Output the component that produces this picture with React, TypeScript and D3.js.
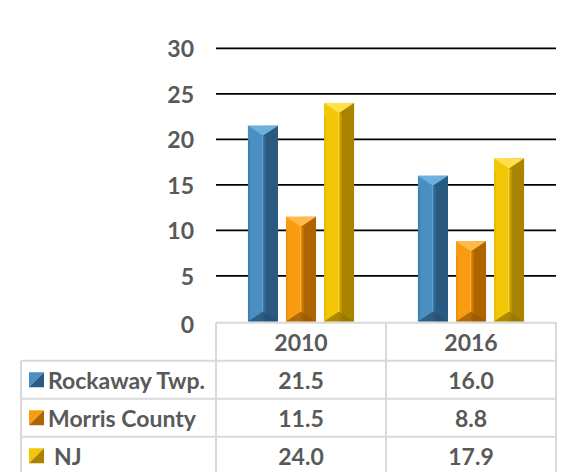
import * as d3 from 'd3'

const W = 564, H = 472

const YEARS = ['2010', '2016']
const SERIES_NAMES = ['Rockaway Twp.', 'Morris County', 'NJ']
const ROCKAWAY = [21.5, 16.0]
const MORRIS = [11.5, 8.8]
const NJ = [24.0, 17.9]
const Y_TICKS = [0, 5, 10, 15, 20, 25, 30]

const VALUES = [ROCKAWAY, MORRIS, NJ]

// face colours per series: light (left), mid, dark (right), top facet
const PALETTE = [
  { light: '#4a8ec2', mid: '#3979ab', dark: '#2b5a80', top: '#6cb0e0', bottom: '#284f70' },
  { light: '#fa9c12', mid: '#ec8a00', dark: '#ad6500', top: '#ffba4c', bottom: '#9a5a00' },
  { light: '#f4c608', mid: '#e4b500', dark: '#aa8400', top: '#ffdf4a', bottom: '#957400' },
]

const FONT = 'Lato, "Open Sans", sans-serif'
const TXT = '#595959'
const GRID_LINE = '#d9d9d9'
const FS = 23

const PLOT = { left: 216, right: 556, top: 48.3, bottom: 321.5 }
const TABLE = { left: 21, top: 322.7, row: 38 }

function Bar({ x, y, w, h, si }: { x: number, y: number, w: number, h: number, si: number }) {
  const c = PALETTE[si]
  const d = Math.min(10, h / 2)
  const xc = x + w / 2
  const yb = y + h
  return (
    <g>
      <rect x={x} y={y} width={w} height={h} fill={`url(#grad${si})`} />
      {/* top chevron */}
      <polygon points={`${x + w},${y} ${xc},${y + d} ${x + w},${y + d + 4}`} fill={c.dark} />
      <polygon points={`${x},${y} ${xc},${y + d} ${x},${y + d + 4}`} fill={c.light} />
      <polygon points={`${x},${y} ${x + w},${y} ${xc},${y + d}`} fill={c.top} />
      {/* bottom chevron */}
      <polygon points={`${x},${yb} ${x + w},${yb} ${xc},${yb - d}`} fill={c.bottom} opacity={0.75} />
      <line x1={xc - 0.5} y1={y + d} x2={xc - 0.5} y2={yb - d} stroke={c.top} strokeWidth={1.2} opacity={0.7} />
    </g>
  )
}

export default function App() {
  const y = d3.scaleLinear().domain([0, 30]).range([PLOT.bottom, PLOT.top])
  const x0 = d3.scaleBand<string>().domain(YEARS).range([PLOT.left, PLOT.right])
  const x1 = d3.scaleBand<number>().domain([0, 1, 2]).range([0, x0.bandwidth()])
    .paddingInner(0.21).paddingOuter(0.84)

  const rowY = (i: number) => TABLE.top + TABLE.row * (i + 1)
  const rowMid = (i: number) => TABLE.top + TABLE.row * (i + 0.5)

  return (
    <div style={{ position: 'absolute', left: 0, top: 0 }}>
      <svg width={W} height={H} viewBox={`0 0 ${W} ${H}`} style={{ display: 'block', background: '#fff' }}>
        <defs>
          {PALETTE.map((c, i) => (
            <linearGradient key={i} id={`grad${i}`} x1="0" x2="1" y1="0" y2="0">
              <stop offset="0" stopColor={c.mid} />
              <stop offset="0.1" stopColor={c.light} />
              <stop offset="0.45" stopColor={c.light} />
              <stop offset="0.5" stopColor={c.mid} />
              <stop offset="0.62" stopColor={c.dark} />
              <stop offset="1" stopColor={c.dark} />
            </linearGradient>
          ))}
        </defs>

        {/* gridlines */}
        {Y_TICKS.filter(t => t > 0).map(t => (
          <line key={t} x1={PLOT.left} x2={PLOT.right} y1={y(t)} y2={y(t)} stroke="#000" strokeWidth={1.8} />
        ))}

        {/* y labels */}
        {Y_TICKS.map(t => (
          <text key={t} x={194} y={y(t) + (t === 0 ? 2 : 0)} textAnchor="end" dominantBaseline="central"
            fontFamily={FONT} fontWeight={700} fontSize={FS} fill={TXT}>{t}</text>
        ))}

        {/* bars */}
        {YEARS.map((yr, ci) => (
          <g key={yr} transform={`translate(${x0(yr)},0)`}>
            {VALUES.map((vals, si) => (
              <Bar key={si} si={si} x={x1(si)!} y={y(vals[ci])} w={x1.bandwidth()} h={y(0) - y(vals[ci])} />
            ))}
          </g>
        ))}

        {/* data table */}
        <g stroke={GRID_LINE} strokeWidth={2} fill="none">
          <line x1={PLOT.left} x2={PLOT.right} y1={TABLE.top} y2={TABLE.top} />
          {[0, 1, 2].map(i => (
            <line key={i} x1={TABLE.left} x2={PLOT.right} y1={rowY(i)} y2={rowY(i)} />
          ))}
          <line x1={TABLE.left} x2={TABLE.left} y1={rowY(0)} y2={H} />
          {[PLOT.left, x0('2016')!, PLOT.right].map((xx, i) => (
            <line key={i} x1={xx} x2={xx} y1={TABLE.top} y2={H} />
          ))}
        </g>

        {YEARS.map(yr => (
          <text key={yr} x={x0(yr)! + x0.bandwidth() / 2} y={rowMid(0)} textAnchor="middle" dominantBaseline="central"
            fontFamily={FONT} fontWeight={700} fontSize={FS} fill={TXT}>{yr}</text>
        ))}

        {SERIES_NAMES.map((name, si) => {
          const cy = rowMid(si + 1)
          const c = PALETTE[si]
          const kx = 29, ks = 15, ky = cy - ks / 2
          return (
            <g key={name}>
              <polygon points={`${kx},${ky} ${kx + ks},${ky} ${kx},${ky + ks}`} fill={c.light} />
              <polygon points={`${kx + ks},${ky} ${kx + ks},${ky + ks} ${kx},${ky + ks}`} fill={c.dark} />
              <text x={si === 2 ? 54 : 48} y={cy} dominantBaseline="central"
                fontFamily={FONT} fontWeight={700} fontSize={FS} fill={TXT}>{name}</text>
              {YEARS.map((yr, ci) => (
                <text key={yr} x={x0(yr)! + x0.bandwidth() / 2} y={cy} textAnchor="middle" dominantBaseline="central"
                  fontFamily={FONT} fontWeight={700} fontSize={FS} fill={TXT}>{VALUES[si][ci].toFixed(1)}</text>
              ))}
            </g>
          )
        })}
      </svg>
    </div>
  )
}
